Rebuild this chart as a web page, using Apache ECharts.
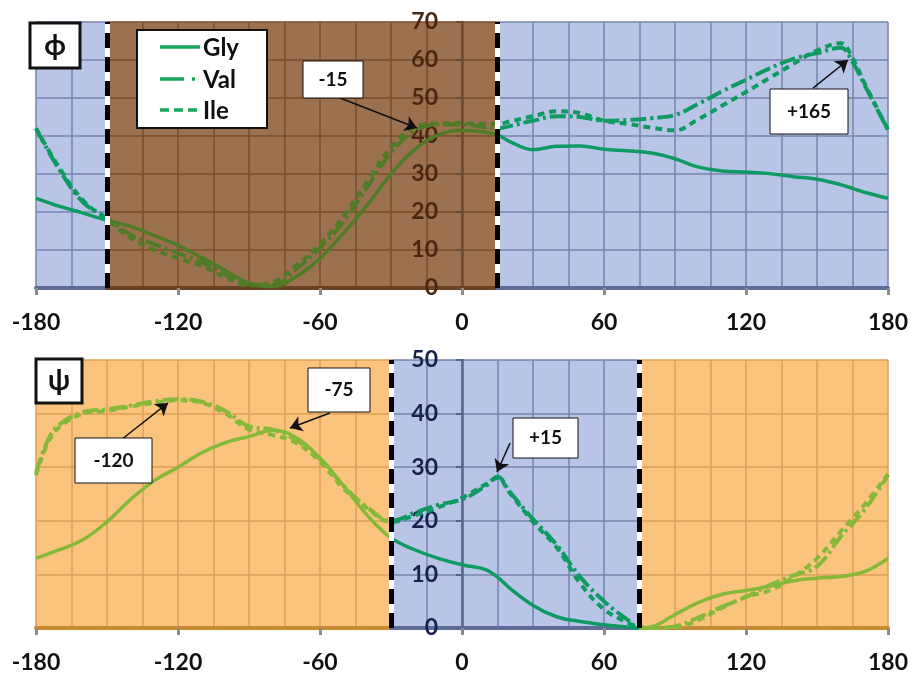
<!DOCTYPE html>
<html>
<head>
<meta charset="utf-8">
<script src="https://cdn.jsdelivr.net/npm/echarts@6/dist/echarts.min.js"></script>
<style>
html, body { margin: 0; padding: 0; background: #fff; }
#chart { width: 911px; height: 675px; }
</style>
</head>
<body>
<div id="chart"></div>
<script>
// phi panel
const phiAngles = [-180, -170, -160, -150, -140, -130, -120, -110, -100, -90,
  -80, -70, -60, -50, -40, -30, -20, -10, 0, 10,
  15, 20, 30, 40, 50, 60, 70, 80, 90, 100,
  110, 120, 130, 140, 150, 160, 165, 170, 180];
const phiGly = [23.6, 21.5, 19.7, 17.8, 16.2, 13.8, 11.2, 8, 4.6, 1.3,
  0.4, 3, 7.8, 14.5, 21.8, 30, 36.5, 40.3, 41.5, 41,
  40.3, 38.6, 36.4, 37.3, 37.4, 36.5, 36.1, 35.5, 34, 31.8,
  30.8, 30.5, 30.1, 29.3, 28.6, 27.2, 26.2, 25.2, 23.6];
const phiVal = [42, 31, 22.5, 18.4, 14, 11.5, 9.2, 6.8, 3.6, 1,
  0.8, 5, 10.5, 17.5, 26.6, 35.5, 41.3, 43, 43, 42.3,
  42, 42.6, 44, 45.2, 45, 44, 44.2, 44.7, 45.5, 48.5,
  51.8, 54.8, 57.8, 60.3, 61.8, 63.2, 59.5, 53.5, 41.6];
const phiIle = [42, 31.5, 23, 18, 13.2, 10, 7.8, 5.8, 2.8, 0.7,
  1.5, 6, 11.5, 19, 28, 37, 42.3, 43.3, 43.4, 43.2,
  43.2, 43.8, 45.2, 46.5, 46, 44, 43.2, 42.2, 41.5, 44.5,
  48, 51.6, 55.3, 59, 62.5, 64.4, 60.5, 54, 41.6];

// psi panel
const psiAngles = [-180, -175, -170, -160, -150, -140, -130, -120, -110, -100,
  -90, -80, -70, -60, -50, -40, -30, -20, -10, 0,
  10, 15, 20, 30, 40, 50, 60, 70, 75, 80,
  90, 100, 110, 120, 130, 140, 150, 160, 170, 180];
const psiGly = [13, 13.8, 14.6, 16.5, 19.8, 24, 27.5, 30, 32.7, 34.6,
  35.7, 36.9, 35.5, 31.7, 26.5, 21, 16.8, 14.6, 13, 11.8,
  10.9, 9.5, 7.5, 4.2, 2.1, 1.2, 0.6, 0.2, 0, 0.2,
  2.5, 4.8, 6.3, 7, 7.8, 8.8, 9.3, 9.6, 10.5, 13];
const psiVal = [28.9, 35, 38, 40.3, 40.8, 41.5, 42.3, 42.7, 42.2, 40.5,
  37.6, 37, 35, 31.5, 26.5, 22.5, 20, 21.5, 23, 24,
  26.5, 28.2, 25.5, 20.3, 15.5, 9.5, 5, 1.5, 0, 0,
  0.3, 2, 4, 5.8, 8, 9.8, 11.5, 17, 22, 28.5];
const psiIle = [28.5, 34.5, 37.5, 40, 40.5, 41.3, 42, 42.5, 42, 40,
  37, 36, 34.5, 31, 26, 22.3, 19.8, 21, 22.5, 24.3,
  26.8, 28, 25.3, 19.8, 15, 8.3, 3.5, 1, 0.2, 0,
  0.1, 1.5, 3.8, 5.8, 7, 9.5, 13, 18, 23, 28.7];

// shaded zones [from, to, kind] and separators
const phiZones = [[-180, -150, 'blue'], [-150, 15, 'brown'], [15, 180, 'blue']];
const psiZones = [[-180, -30, 'orange'], [-30, 75, 'blue'], [75, 180, 'orange']];
const phiBorders = [-150, 15];
const psiBorders = [-30, 75];

// callout arrows [fromAngle, fromValue, toAngle, toValue]
const phiArrows = [[-51.5, 50, -19, 42.1], [148.3, 52.6, 163.1, 60]];
const psiArrows = [[-143.2, 35.4, -124.2, 42], [-55.8, 40.1, -72.7, 37.3], [20.3, 34.5, 14.8, 29.1]];

const seriesNames = ['Gly', 'Val', 'Ile'];

const zoneStyle = {
  blue: { bg: '#b9c5e7', grid: '#7585ad', axis: '#5d6d98', line: '#0f9a62' },
  brown: { bg: '#9c7150', grid: '#7a4c2c', axis: '#6a4222', line: '#4f7b26' },
  orange: { bg: '#fbc47e', grid: '#dca055', axis: '#c98a34', line: '#86b83a' }
};

const FONT = 'Lato, "Open Sans", sans-serif';
const PLOT_LEFT = 36;
const PLOT_W = 852;
const panels = [
  { top: 22, height: 266, ymax: 70, zones: phiZones, labelColor: '#4a2810', axisColor: '#6b4a30' },
  { top: 360, height: 268, ymax: 50, zones: psiZones, labelColor: '#16224c', axisColor: '#56668e' }
];

function xPix(deg) {
  return PLOT_LEFT + (deg + 180) / 360 * PLOT_W;
}

const grid = [];
const xAxis = [];
const yAxis = [];

// main grids (labels, data)
panels.forEach((p, i) => {
  grid.push({ left: PLOT_LEFT, top: p.top, width: PLOT_W, height: p.height, show: false,
    containLabel: false, outerBoundsMode: 'none' });
  xAxis.push({
    gridIndex: i, type: 'value', min: -180, max: 180, interval: 60, z: 3,
    axisLine: { show: false },
    axisTick: { show: true, length: 7, lineStyle: { color: '#8c8c8c', width: 3 } },
    axisLabel: { margin: 23, fontSize: 23, fontWeight: 'bold', fontFamily: FONT, color: '#111' },
    splitLine: { show: false }
  });
  yAxis.push({
    gridIndex: i, type: 'value', min: 0, max: p.ymax, interval: 10, z: 3,
    position: 'left', offset: -(xPix(0) - PLOT_LEFT),
    axisLine: { show: true, onZero: false, lineStyle: { color: p.axisColor, width: 2.5 } },
    axisTick: { show: true, length: 6, lineStyle: { color: p.axisColor, width: 2 } },
    axisLabel: { margin: 24, fontSize: 23, fontWeight: 'bold', fontFamily: FONT, color: p.labelColor },
    splitLine: { show: false }
  });
});

// zone grids (backgrounds, grid lines, bottom axis line)
panels.forEach((p) => {
  p.zones.forEach(([a, b, kind]) => {
    const s = zoneStyle[kind];
    const gi = grid.length;
    grid.push({
      left: xPix(a), top: p.top, width: xPix(b) - xPix(a), height: p.height,
      show: true, backgroundColor: s.bg, borderWidth: 0,
      containLabel: false, outerBoundsMode: 'none'
    });
    xAxis.push({
      gridIndex: gi, type: 'value', min: a, max: b, interval: 15,
      axisLabel: { show: false }, axisTick: { show: false },
      axisLine: { show: true, onZero: false, lineStyle: { color: s.axis, width: 4 } },
      splitLine: { show: true, lineStyle: { color: s.grid, width: 1.5 } }
    });
    yAxis.push({
      gridIndex: gi, type: 'value', min: 0, max: p.ymax, interval: 10,
      axisLabel: { show: false }, axisTick: { show: false }, axisLine: { show: false },
      splitLine: { show: true, lineStyle: { color: s.grid, width: 1.5 } }
    });
  });
});

const styles = {
  Gly: { type: 'solid', width: 3.5, legendDash: null },
  Val: { type: [16, 4, 3, 4], width: 4, legendDash: [24, 8, 3, 20] },
  Ile: { type: [7, 5], width: 4, legendDash: [9, 5] }
};

function separatorLines(borders) {
  const out = [];
  borders.forEach(v => {
    out.push({ xAxis: v, lineStyle: { color: '#fff', type: 'solid', width: 5 } });
    out.push({ xAxis: v, lineStyle: { color: '#000', type: [15, 9], width: 5 } });
  });
  return out;
}

function arrowLines(arrows) {
  return arrows.map(([x1, y1, x2, y2]) => [{ coord: [x1, y1] }, { coord: [x2, y2] }]);
}

function panelSeries(idx, angles, sets, borders, arrows) {
  return sets.map(([name, vals], k) => {
    const s = {
      name: name, type: 'line', xAxisIndex: idx, yAxisIndex: idx,
      data: angles.map((a, i) => [a, vals[i]]),
      smooth: 0.4, symbol: 'none',
      lineStyle: { type: styles[name].type, width: styles[name].width }
    };
    if (k === 1) {
      s.markLine = {
        silent: true, symbol: ['none', 'arrow'], symbolSize: 12,
        label: { show: false },
        lineStyle: { color: '#111', type: 'solid', width: 1.5 },
        data: arrowLines(arrows)
      };
    }
    if (k === 2) {
      s.markLine = {
        silent: true, symbol: ['none', 'none'],
        label: { show: false },
        data: separatorLines(borders)
      };
    }
    return s;
  });
}

const series = [].concat(
  panelSeries(0, phiAngles, [['Gly', phiGly], ['Val', phiVal], ['Ile', phiIle]], phiBorders, phiArrows),
  panelSeries(1, psiAngles, [['Gly', psiGly], ['Val', psiVal], ['Ile', psiIle]], psiBorders, psiArrows)
);

function zonePieces(zones) {
  return zones.map(([a, b, kind], i) => {
    const piece = { color: zoneStyle[kind].line };
    if (i === 0) piece.lt = b;
    else if (i === zones.length - 1) piece.gt = a;
    else { piece.gte = a; piece.lte = b; }
    return piece;
  });
}

function box(x, y, w, h, text, fontSize, lineWidth) {
  return {
    type: 'group', z: 100,
    children: [
      { type: 'rect', z: 100, shape: { x: x, y: y, width: w, height: h },
        style: { fill: '#fff', stroke: '#111', lineWidth: lineWidth } },
      { type: 'text', z: 101, x: x + w / 2, y: y + h / 2,
        style: { text: text, align: 'center', verticalAlign: 'middle',
          fontSize: fontSize, fontWeight: 'bold', fontFamily: FONT, fill: '#111' } }
    ]
  };
}

// hand-drawn legend box (line samples + names)
const legendColor = '#1aa65c';
function legendBox(x, y, w, h, rowYs) {
  const children = [
    { type: 'rect', z: 100, shape: { x: x, y: y, width: w, height: h },
      style: { fill: '#fff', stroke: '#111', lineWidth: 2 } }
  ];
  seriesNames.forEach((n, i) => {
    children.push({ type: 'line', z: 101,
      shape: { x1: x + 23, y1: rowYs[i], x2: x + 63, y2: rowYs[i] },
      style: { stroke: legendColor, lineWidth: 3.5, lineDash: styles[n].legendDash } });
    children.push({ type: 'text', z: 101, x: x + 66, y: rowYs[i] + 1,
      style: { text: n, align: 'left', verticalAlign: 'middle',
        fontSize: 24, fontWeight: 'bold', fontFamily: FONT, fill: '#111' } });
  });
  return { type: 'group', z: 100, children: children };
}

const option = {
  animation: false,
  backgroundColor: '#fff',
  grid: grid,
  xAxis: xAxis,
  yAxis: yAxis,
  visualMap: [
    { type: 'piecewise', show: false, dimension: 0, seriesIndex: [0, 1, 2], pieces: zonePieces(phiZones) },
    { type: 'piecewise', show: false, dimension: 0, seriesIndex: [3, 4, 5], pieces: zonePieces(psiZones) }
  ],
  graphic: [
    legendBox(137, 30, 130, 98, [47, 79, 110]),
    box(30, 23, 50, 45, 'ϕ', 28, 3),
    box(36, 359, 46, 44, 'ψ', 28, 3),
    box(303, 61, 60, 37, '-15', 19, 1),
    box(770, 89, 78, 45, '+165', 19, 1),
    box(75, 438, 77, 45, '-120', 19, 1),
    box(308, 368, 62, 44, '-75', 19, 1),
    box(513, 418, 65, 40, '+15', 19, 1)
  ],
  series: series
};

const myChart = echarts.init(document.getElementById('chart'));
myChart.setOption(option);
</script>
</body>
</html>
